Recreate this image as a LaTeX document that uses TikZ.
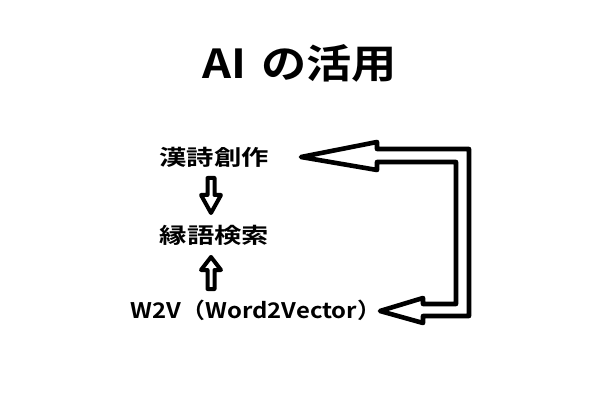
\documentclass[tikz,border=0pt]{standalone}
\usepackage{fontspec}
\newfontfamily\jpfont{Noto Sans CJK JP}[BoldFont={Noto Sans CJK JP Bold}]
\usetikzlibrary{calc}
\tikzset{
  lbl/.style={inner sep=0pt, font=\jpfont\bfseries\fontsize{21.5}{24}\selectfont},
  ttl/.style={inner sep=0pt, font=\jpfont\bfseries\fontsize{40}{44}\selectfont},
  blockarrow/.style={draw=black, line width=4.6pt, line join=round, fill=white},
  smallarrow/.style={draw=black, line width=4pt, line join=round, fill=white}
}
\begin{document}
\begin{tikzpicture}[x=1pt,y=-1pt]
\useasboundingbox (0,0) rectangle (605,406);
\node[ttl] (title) at (299.5,63) {\scalebox{1.13}[1]{AI\hspace{0.1em} の活用}};
\node[lbl] (kanshi) at (214,157.5) {\scalebox{1.27}[1]{漢詩創作}};
\node[lbl] (engo) at (214.5,235) {\scalebox{1.27}[1]{縁語検索}};
\node[lbl] (w2v) at (256,310) {\scalebox{1.11}[1]{W2V（Word2Vector）}};
% down arrow kanshi -> engo
\draw[smallarrow] (207.5,178) -- (214.5,178) -- (214.5,195) -- (221,195) -- (211,213) -- (201,195) -- (207.5,195) -- cycle;
% up arrow w2v -> engo
\draw[smallarrow] (207.5,289) -- (214.5,289) -- (214.5,270) -- (221,270) -- (211,257) -- (201,270) -- (207.5,270) -- cycle;
% big bracket arrow
\draw[blockarrow] (301,157) -- (377,142) -- (377,149) -- (469,149) -- (469,316) -- (423,316) -- (423,323) -- (380,311) -- (423,298) -- (423,304) -- (456,304) -- (456,162) -- (377,162) -- (377,170) -- cycle;
\end{tikzpicture}
\end{document}
